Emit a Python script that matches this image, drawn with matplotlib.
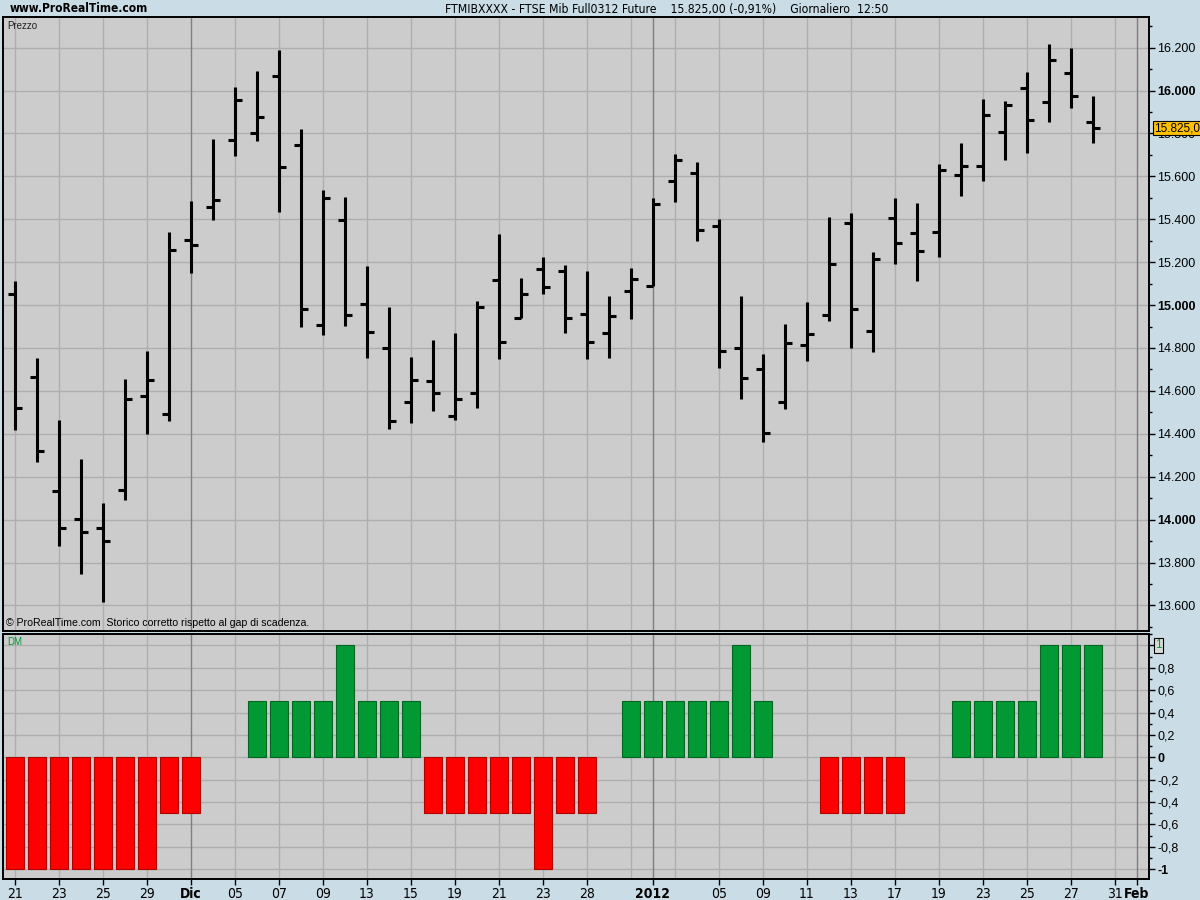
import matplotlib
matplotlib.use('Agg')
import matplotlib.pyplot as plt
from matplotlib import font_manager
from matplotlib.ticker import MultipleLocator, FuncFormatter

# ---------------- data ----------------
dates = ['2011-11-21', '2011-11-22', '2011-11-23', '2011-11-24', '2011-11-25',
         '2011-11-28', '2011-11-29', '2011-11-30', '2011-12-01', '2011-12-02',
         '2011-12-05', '2011-12-06', '2011-12-07', '2011-12-08', '2011-12-09',
         '2011-12-12', '2011-12-13', '2011-12-14', '2011-12-15', '2011-12-16',
         '2011-12-19', '2011-12-20', '2011-12-21', '2011-12-22', '2011-12-23',
         '2011-12-27', '2011-12-28', '2011-12-29', '2011-12-30', '2012-01-02',
         '2012-01-03', '2012-01-04', '2012-01-05', '2012-01-06', '2012-01-09',
         '2012-01-10', '2012-01-11', '2012-01-12', '2012-01-13', '2012-01-16',
         '2012-01-17', '2012-01-18', '2012-01-19', '2012-01-20', '2012-01-23',
         '2012-01-24', '2012-01-25', '2012-01-26', '2012-01-27', '2012-01-30']
future_dates = ['2012-01-31', '2012-02-01']

opens = [15050, 14664, 14133, 14002, 13961, 14136, 14574, 14492, 15302, 15455,
         15769, 15800, 16067, 15748, 14905, 15395, 15004, 14802, 14546, 14644,
         14485, 14588, 15115, 14941, 15168, 15161, 14958, 14872, 15068, 15090,
         15577, 15614, 15371, 14802, 14703, 14550, 14815, 14955, 15381, 14878,
         15407, 15334, 15339, 15605, 15650, 15808, 16014, 15945, 16083, 15852]
highs = [15110, 14752, 14462, 14281, 14076, 14654, 14788, 15343, 15485, 15774,
         16016, 16093, 16188, 15822, 15535, 15502, 15181, 14989, 14756, 14835,
         14869, 15017, 15331, 15126, 15224, 15189, 15158, 15042, 15172, 15497,
         15704, 15665, 15399, 15042, 14770, 14910, 15016, 15412, 15428, 15249,
         15498, 15474, 15659, 15754, 15962, 15953, 16088, 16216, 16200, 15976]
lows = [14420, 14269, 13876, 13745, 13614, 14093, 14400, 14459, 15148, 15398,
        15697, 15766, 15435, 14898, 14862, 14904, 14755, 14424, 14448, 14504,
        14466, 14518, 14748, 14941, 15053, 14871, 14748, 14753, 14934, 15090,
        15479, 15300, 14707, 14564, 14362, 14517, 14739, 14926, 14801, 14781,
        15190, 15112, 15223, 15508, 15578, 15676, 15709, 15853, 15919, 15756]
closes = [14520, 14319, 13962, 13942, 13902, 14560, 14650, 15259, 15279, 15488,
          15955, 15879, 15645, 14983, 15497, 14952, 14873, 14460, 14653, 14592,
          14560, 14989, 14830, 15050, 15082, 14942, 14830, 14947, 15120, 15469,
          15675, 15348, 14788, 14658, 14404, 14825, 14867, 15193, 14983, 15216,
          15291, 15250, 15631, 15647, 15886, 15934, 15861, 16141, 15976, 15825]

dm = [-1, -1, -1, -1, -1, -1, -1, -0.5, -0.5, 0,
      0, 0.5, 0.5, 0.5, 0.5, 1, 0.5, 0.5, 0.5, -0.5,
      -0.5, -0.5, -0.5, -0.5, -1, -0.5, -0.5, 0, 0.5, 0.5,
      0.5, 0.5, 0.5, 1, 0.5, 0, 0, -0.5, -0.5, -0.5,
      -0.5, 0, 0, 0.5, 0.5, 0.5, 0.5, 1, 1, 1]

tick_dates = ['2011-11-21', '2011-11-23', '2011-11-25', '2011-11-29', '2011-12-01',
              '2011-12-05', '2011-12-07', '2011-12-09', '2011-12-13', '2011-12-15',
              '2011-12-19', '2011-12-21', '2011-12-23', '2011-12-28', '2012-01-02',
              '2012-01-05', '2012-01-09', '2012-01-11', '2012-01-13', '2012-01-17',
              '2012-01-19', '2012-01-23', '2012-01-25', '2012-01-27', '2012-01-31',
              '2012-02-01']
tick_labels = ['21', '23', '25', '29', 'Dic', '05', '07', '09', '13', '15',
               '19', '21', '23', '28', '2012', '05', '09', '11', '13', '17',
               '19', '23', '25', '27', '31', 'Feb']
bold_labels = ['Dic', '2012', 'Feb']
month_starts = ['2011-12-01', '2012-01-02', '2012-02-01']

title_left = 'www.ProRealTime.com'
title_main = 'FTMIBXXXX - FTSE Mib Full0312 Future    15.825,00 (-0,91%)    Giornaliero  12:50'
last_price_label = '15.825,0'
copyright_text = '\u00a9 ProRealTime.com  Storico corretto rispetto al gap di scadenza.'

# ---------------- fonts ----------------
names = {f.name for f in font_manager.fontManager.ttflist}
REG = 'Liberation Sans' if 'Liberation Sans' in names else 'DejaVu Sans'
if 'Liberation Sans Narrow' in names:
    NARROW = dict(family='Liberation Sans Narrow')
else:
    NARROW = dict(family='DejaVu Sans', stretch='condensed')
plt.rcParams['font.family'] = [REG, 'DejaVu Sans']

# ---------------- colours ----------------
BG = '#CADCE5'
PANEL = '#CCCCCC'
GRID = '#AEAEAE'
MONTH = '#7F7F7F'
RED = '#FF0000'
GREEN = '#009933'

axis_dates = dates + future_dates
xpos = {d: i for i, d in enumerate(axis_dates)}
x = [xpos[d] for d in dates]

W, H = 1200, 900
fig = plt.figure(figsize=(12, 9), dpi=100, facecolor=BG)

def frac_rect(l, t, r, b):
    return [l / W, 1 - b / H, (r - l) / W, (b - t) / H]

ax1 = fig.add_axes(frac_rect(3, 17, 1149, 630.5))
ax2 = fig.add_axes(frac_rect(3, 633.5, 1149, 879))

xmin, xmax = -0.55, 51.55
grid_idx = list(range(0, len(axis_dates), 2))
month_idx = [xpos[d] for d in month_starts]

for ax in (ax1, ax2):
    ax.set_facecolor(PANEL)
    ax.set_xlim(xmin, xmax)
    for gi in grid_idx:
        if gi not in month_idx:
            ax.axvline(gi, color=GRID, lw=1.0, zorder=0.5)
    for mi in month_idx:
        ax.axvline(mi, color=MONTH, lw=1.0, zorder=0.6)
    for s in ax.spines.values():
        s.set_color('black')
        s.set_linewidth(1.4)
    ax.yaxis.tick_right()
    ax.tick_params(axis='y', which='major', direction='out', length=4, width=1,
                   colors='black', pad=2)
    ax.tick_params(axis='y', which='minor', direction='out', length=2.5, width=1,
                   colors='black')
    ax.set_axisbelow(True)

# ---------------- upper panel: OHLC ----------------
ax1.set_ylim(13483, 16343)
ax1.yaxis.set_major_locator(MultipleLocator(200))
ax1.yaxis.set_minor_locator(MultipleLocator(100))
ax1.yaxis.grid(True, which='major', color=GRID, lw=1.0, zorder=0.5)
ax1.yaxis.set_major_formatter(FuncFormatter(lambda v, p: f'{v:,.0f}'.replace(',', '.')))
ax1.tick_params(axis='x', which='both', bottom=False, labelbottom=False)

tick_len = 0.33
ax1.vlines(x, lows, highs, color='black', lw=2.2, zorder=3)
ax1.hlines(opens, [xi - tick_len for xi in x], x, color='black', lw=2.2, zorder=3)
ax1.hlines(closes, x, [xi + tick_len for xi in x], color='black', lw=2.2, zorder=3)

fig.canvas.draw()
for lab in ax1.get_yticklabels():
    try:
        v = float(lab.get_text().replace('.', ''))
    except ValueError:
        continue
    lab.set_fontfamily(REG)
    lab.set_fontsize(9)
    if v % 1000 == 0:
        lab.set_fontweight('bold')

ax1.annotate(last_price_label, xy=(1.0, closes[-1]), xycoords=('axes fraction', 'data'),
             xytext=(5, 0), textcoords='offset pixels', ha='left', va='center',
             fontsize=8.5, family=REG, color='black', zorder=10,
             bbox=dict(boxstyle='square,pad=0.1', fc='#FFC000', ec='black', lw=0.8),
             annotation_clip=False)

ax1.text(0.004, 0.9935, 'Prezzo', transform=ax1.transAxes, ha='left', va='top',
         fontsize=7, family=REG, color='#202020')
ax1.text(0.003, 0.004, copyright_text, transform=ax1.transAxes, ha='left', va='bottom',
         fontsize=7.6, family=REG, color='black')

# ---------------- lower panel: DM histogram ----------------
ax2.set_ylim(-1.089, 1.107)
ax2.yaxis.set_major_locator(MultipleLocator(0.2))
ax2.yaxis.set_minor_locator(MultipleLocator(0.1))
ax2.yaxis.grid(True, which='major', color=GRID, lw=1.0, zorder=0.5)

def dm_fmt(v, p):
    if abs(v) < 1e-9:
        return '0'
    if abs(v - 1) < 1e-9:
        return ''
    if abs(v + 1) < 1e-9:
        return '-1'
    return f'{v:.1f}'.replace('.', ',')
ax2.yaxis.set_major_formatter(FuncFormatter(dm_fmt))

bar_colors = [GREEN if v > 0 else RED for v in dm]
edge_colors = ['#006622' if v > 0 else '#B00000' for v in dm]
bx = [xi for xi, v in zip(x, dm) if v != 0]
bv = [v for v in dm if v != 0]
bc = [c for c, v in zip(bar_colors, dm) if v != 0]
be = [c for c, v in zip(edge_colors, dm) if v != 0]
ax2.bar(bx, bv, width=0.8, color=bc, edgecolor=be, linewidth=0.8, zorder=3)

ax2.set_xticks([xpos[d] for d in tick_dates])
ax2.set_xticklabels(tick_labels)
ax2.tick_params(axis='x', which='major', direction='out', length=4, width=1, pad=2)
for lab in ax2.get_xticklabels():
    lab.set_fontfamily(NARROW['family'])
    if 'stretch' in NARROW:
        lab.set_fontstretch(NARROW['stretch'])
    lab.set_fontsize(10)
    if lab.get_text() in bold_labels:
        lab.set_fontweight('bold')

fig.canvas.draw()
for lab in ax2.get_yticklabels():
    lab.set_fontfamily(REG)
    lab.set_fontsize(9)
    if lab.get_text() in ('0', '-1'):
        lab.set_fontweight('bold')

ax2.annotate('1', xy=(1.0, 1.0), xycoords=('axes fraction', 'data'),
             xytext=(6, 0), textcoords='offset pixels', ha='left', va='center',
             fontsize=8.5, family=REG, color=GREEN, zorder=10,
             bbox=dict(boxstyle='square,pad=0.1', fc='#D6DDD6', ec='black', lw=0.8),
             annotation_clip=False)
ax2.text(0.004, 0.985, 'DM', transform=ax2.transAxes, ha='left', va='top',
         fontsize=7, family=REG, color=GREEN)

# ---------------- titles ----------------
fig.text(10 / W, 1 - 9 / H, title_left, ha='left', va='center', fontsize=8.6,
         fontweight='bold', color='black', **NARROW)
fig.text(445 / W, 1 - 9 / H, title_main, ha='left', va='center', fontsize=8.7,
         color='black', **NARROW)

fig.savefig('out.png', dpi=100, facecolor=BG)
